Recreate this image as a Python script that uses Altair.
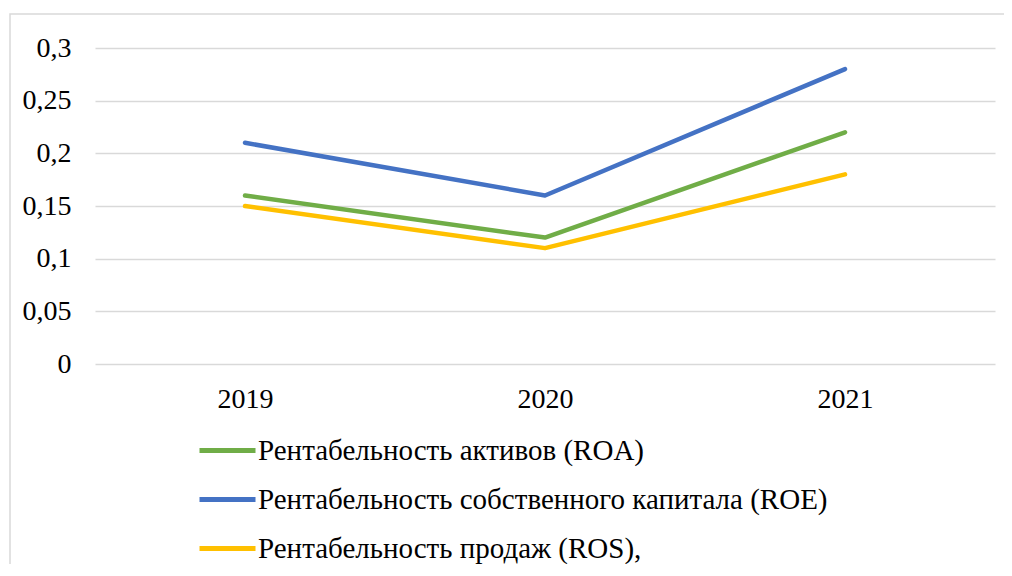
import altair as alt
import pandas as pd

years = ["2019", "2020", "2021"]
series_names = [
    "Рентабельность активов (ROA)",
    "\u00a0Рентабельность собственного капитала (ROE)",
    "Рентабельность продаж (ROS),",
]
roa = [0.16, 0.12, 0.22]
roe = [0.21, 0.16, 0.28]
ros = [0.15, 0.11, 0.18]
colors = ["#70AD47", "#4472C4", "#FFC000"]
y_ticks = [0, 0.05, 0.1, 0.15, 0.2, 0.25, 0.3]

rows = []
for name, vals in zip(series_names, [roa, roe, ros]):
    for yr, v in zip(years, vals):
        rows.append({"year": yr, "value": v, "series": name})
df = pd.DataFrame(rows)

FONT = "Liberation Serif"

border = alt.Chart(pd.DataFrame({"a": [0]})).mark_rect(
    fill=None, stroke="#d9d9d9", strokeWidth=1.5, clip=False
).encode(
    x=alt.value(-85), x2=alt.value(930), y=alt.value(-34), y2=alt.value(560)
)

lines = alt.Chart(df).mark_line(strokeWidth=4.5, strokeCap="round", strokeJoin="round").encode(
    x=alt.X("year:O", sort=years, scale=alt.Scale(type="point", padding=0.5),
            axis=alt.Axis(title=None, labelAngle=0, ticks=False, domain=False, grid=False,
                          labelPadding=21)),
    y=alt.Y("value:Q", scale=alt.Scale(domain=[0, 0.3], nice=False),
            axis=alt.Axis(title=None, values=y_ticks, ticks=False, domain=False,
                          grid=True, gridColor="#d9d9d9", gridWidth=1.5, labelPadding=24,
                          labelExpr="replace(format(datum.value, '.2~f'), '.', ',')")),
    color=alt.Color("series:N", sort=series_names,
                    scale=alt.Scale(domain=series_names, range=colors),
                    legend=alt.Legend(title=None, orient="none", legendX=102, legendY=372,
                                      direction="vertical", symbolType="stroke",
                                      symbolSize=3136, symbolStrokeWidth=5,
                                      labelOffset=0, rowPadding=3, labelLimit=800)),
)

chart = alt.layer(border, lines).properties(
    width=900, height=316,
    autosize=alt.AutoSizeParams(type="none"),
    padding={"left": 87, "top": 40, "right": 9, "bottom": 200},
).configure(font=FONT).configure_view(stroke=None).configure_axis(
    labelFont=FONT, labelFontSize=28, labelColor="#000000"
).configure_legend(
    labelFont=FONT, labelFontSize=29, labelColor="#000000"
)

chart.save("out.html", embed_options={"renderer": "svg", "actions": False})
